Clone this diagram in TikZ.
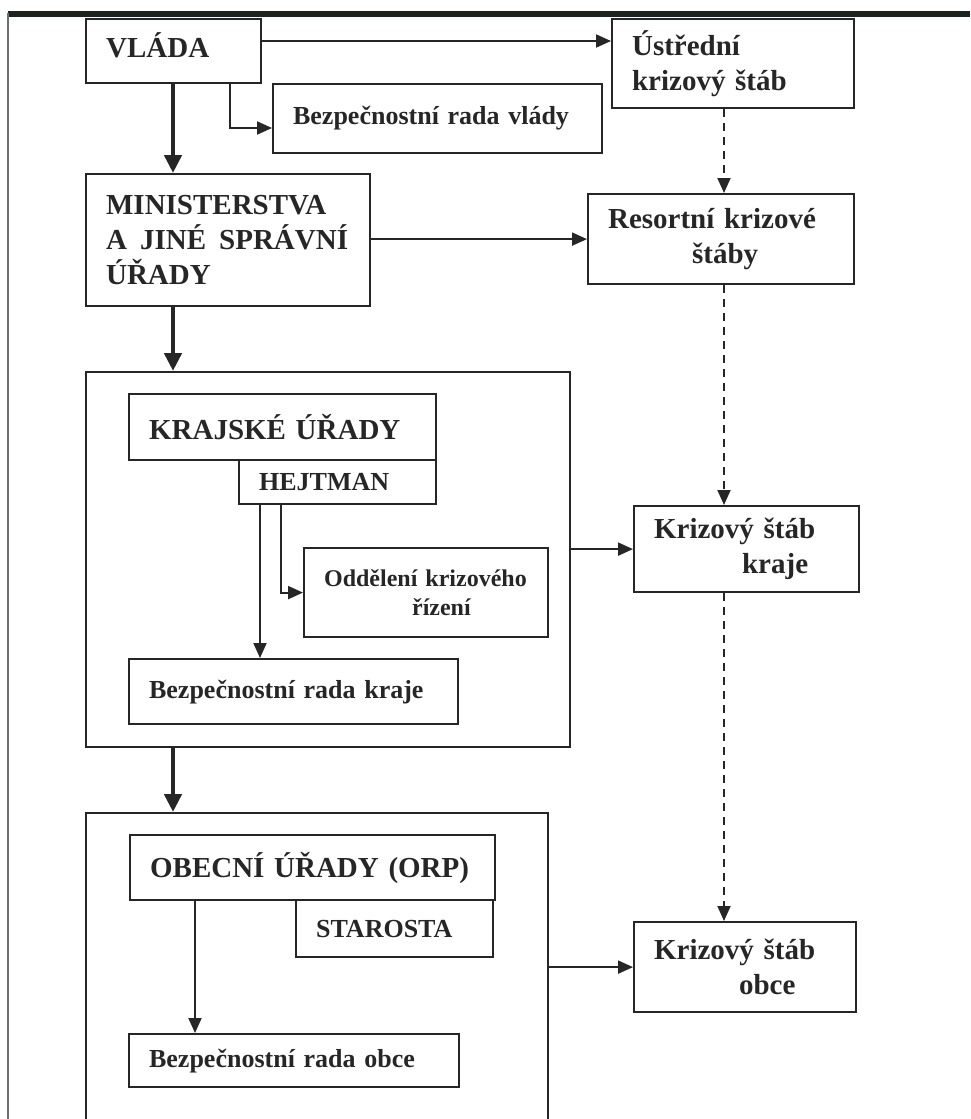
\documentclass[tikz,border=0pt]{standalone}
\usepackage{fontspec}
\setmainfont{Liberation Serif}
\usepackage{xcolor}
\definecolor{ink}{HTML}{262626}
\definecolor{edge}{HTML}{1C2420}
\definecolor{scan}{HTML}{6E6E6E}
\usetikzlibrary{arrows.meta,calc}

\begin{document}
\begin{tikzpicture}[
		x={(0.5pt,0)},
		y={(0,-0.5pt)},
		box/.style={draw=ink, line width=1.1pt, inner xsep=10pt, inner ysep=2pt,
			align=left, anchor=north west, text=ink},
		big/.style={box, font=\fontsize{14.5}{17.5}\selectfont\bfseries},
		small/.style={box, font=\fontsize{13}{15.6}\selectfont\bfseries},
		frame/.style={draw=ink, line width=1.1pt, anchor=north west, inner sep=0pt},
		link/.style={draw=ink, line width=1pt, -{Triangle[length=7.5pt,width=6.5pt]}},
		main/.style={draw=ink, line width=2.3pt, -{Triangle[length=9pt,width=8.5pt]}},
		staff/.style={link, line width=0.9pt, dash pattern=on 4pt off 3pt}
	]
		\clip (0,0) rectangle (970,1119);

		% page edge of the scan
		\draw[edge, line width=2.6pt] (8,14) -- (970,14);
		\draw[scan, line width=1pt] (8,13) -- (8,1119);

		% government level
		\node[big, text width=67.5pt, minimum height=32pt, text depth=6pt] (vlada) at (85,18) {VLÁDA};
		\node[big, text width=101pt, minimum height=44.5pt] (ustredni) at (611,18) {Ústřední\\krizový štáb};
		\node[small, text width=144.5pt, minimum height=34.5pt] (bezpvlady) at (272,83) {Bezpečnostní rada vlády};

		% ministries
		\node[big, text width=122pt, minimum height=66pt] (minist) at (85,173)
			{MINISTERSTVA\\\mbox{A\hspace{.45em}JINÉ\hspace{.45em}SPRÁVNÍ}\\ÚŘADY};
		\node[big, text width=113pt, minimum height=45pt] (resortni) at (587,193)
			{Resortní krizové\\\hspace*{42pt}štáby};

		% regions
		\node[frame, minimum width=242pt, minimum height=187.5pt] (kraj) at (85,371) {};
		\node[big, text width=133.5pt, minimum height=33pt] (krajske) at (128,393) {KRAJSKÉ ÚŘADY};
		\node[small, text width=78.5pt, minimum height=22pt] (hejtman) at (238,459) {HEJTMAN};
		\node[box, font=\fontsize{12}{14.5}\selectfont\bfseries, text width=102pt, minimum height=44.5pt] (oddeleni) at (303,547)
			{Oddělení krizového\\\hspace*{44pt}řízení};
		\node[small, text width=144.5pt, minimum height=32.5pt] (bezpkraje) at (128,658) {Bezpečnostní rada kraje};
		\node[big, text width=92.5pt, minimum height=43pt] (stabkraje) at (633,505)
			{Krizový štáb\\\hspace*{44pt}kraje};

		% municipalities
		\node[frame, minimum width=231pt, minimum height=159pt] (obce) at (85,812) {};
		\node[big, text width=162.5pt, minimum height=32.5pt] (obecni) at (129,834) {OBECNÍ ÚŘADY (ORP)};
		\node[small, text width=78.5pt, minimum height=28.5pt] (starosta) at (295,899) {STAROSTA};
		\node[small, text width=145pt, minimum height=26.5pt] (bezpobce) at (128,1033) {Bezpečnostní rada obce};
		\node[big, text width=91pt, minimum height=45pt] (stabobce) at (633,921)
			{Krizový štáb\\\hspace*{42.5pt}obce};

		% chain of command
		\draw[main] (vlada.south -| 173,0) -- (minist.north -| 173,0);
		\draw[main] (minist.south -| 173,0) -- (kraj.north -| 173,0);
		\draw[main] (kraj.south -| 173,0) -- (obce.north -| 173,0);

		% links to the crisis staffs
		\draw[link] (vlada.east |- 0,41) -- (ustredni.west |- 0,41);
		\draw[link] (vlada.south -| 230,0) |- (bezpvlady.west |- 0,128);
		\draw[link] (minist.east |- resortni.west) -- (resortni.west);
		\draw[link] (kraj.east |- stabkraje.west) -- (stabkraje.west);
		\draw[link] (obce.east |- stabobce.west) -- (stabobce.west);

		% inside the region and the municipality
		\draw[link] (hejtman.south -| 260,0) -- (bezpkraje.north -| 260,0);
		\draw[link] (hejtman.south -| 281,0) |- (oddeleni.west);
		\draw[link] (obecni.south -| 195,0) -- (bezpobce.north -| 195,0);

		% staff to staff
		\draw[staff] (ustredni.south -| 724,0) -- (resortni.north -| 724,0);
		\draw[staff] (resortni.south -| 724,0) -- (stabkraje.north -| 724,0);
		\draw[staff] (stabkraje.south -| 724,0) -- (stabobce.north -| 724,0);
\end{tikzpicture}
\end{document}
